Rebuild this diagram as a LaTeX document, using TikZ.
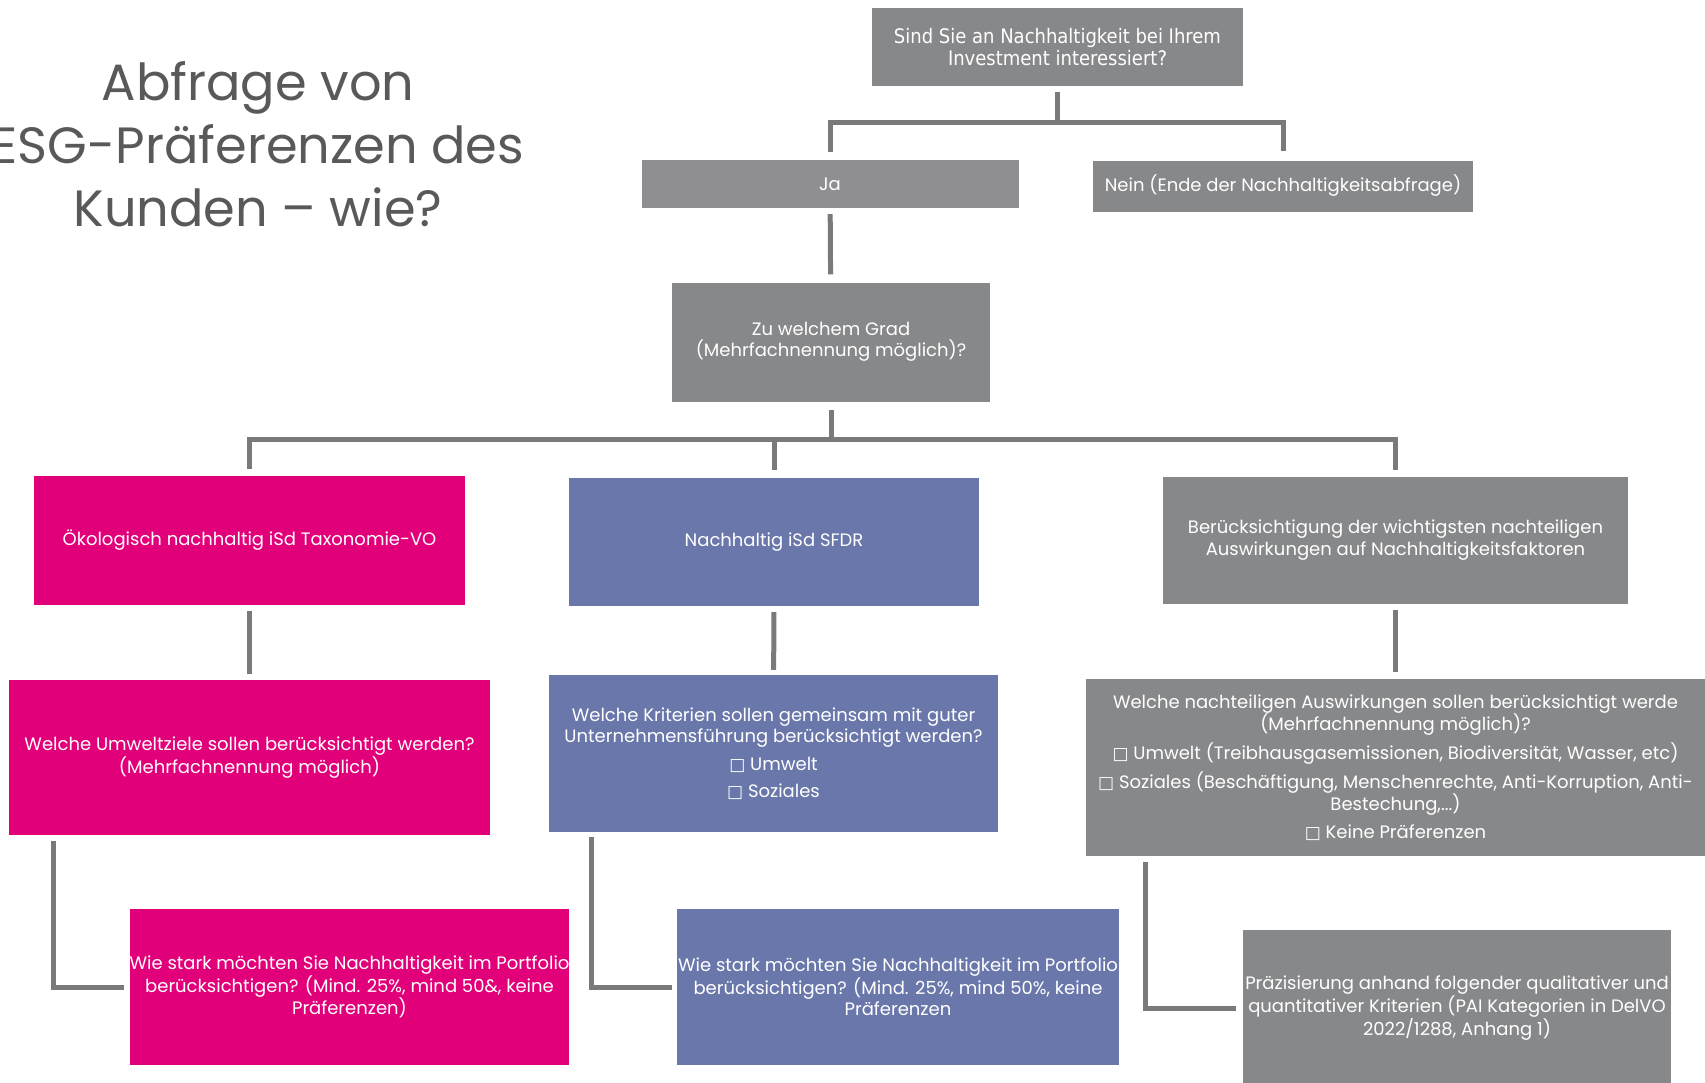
\documentclass[tikz,border=0pt]{standalone}
\usepackage{fontspec}
\setmainfont{Poppins}
\newfontfamily\condfont{DejaVu Sans Condensed}
\newfontfamily\symfont{DejaVu Sans}

\definecolor{esgPink}{RGB}{226,0,122}
\definecolor{esgBlue}{RGB}{106,119,170}
\definecolor{esgGrey}{RGB}{135,136,138}
\definecolor{esgLightGrey}{RGB}{143,143,145}
\definecolor{lineGrey}{RGB}{122,122,124}
\definecolor{titleGrey}{RGB}{89,89,89}

\newcommand{\boxsym}{{\symfont\fontsize{17}{17}\selectfont □}}
\newcommand{\boxtext}{\fontsize{18}{21.5}\selectfont}

\begin{document}
\begin{tikzpicture}[x=1pt,y=-1pt]
\tikzstyle{box}=[rectangle,inner sep=0pt,text=white,align=center,font=\boxtext]
\tikzstyle{pinkBox}=[box,fill=esgPink]
\tikzstyle{blueBox}=[box,fill=esgBlue]
\tikzstyle{greyBox}=[box,fill=esgGrey]
\tikzstyle{conn}=[draw=lineGrey,line width=5pt]

\useasboundingbox (0,0) rectangle (1705,1082);

%title.
\node[text=titleGrey,align=center,font=\fontsize{51}{63}\selectfont] (title) at (258,144) {Abfrage von\\ESG-Präferenzen des\\Kunden – wie?};

%first question.
\node[greyBox,minimum width=371pt,minimum height=78pt,font=\condfont\fontsize{20}{21.5}\selectfont] (frage) at (1057.5,47) {Sind Sie an Nachhaltigkeit bei Ihrem\\Investment interessiert?};
\node[box,fill=esgLightGrey,minimum width=377pt,minimum height=48pt] (ja) at (830,184) {Ja};
\node[greyBox,minimum width=380pt,minimum height=51pt] (nein) at (1283,186) {Nein (Ende der Nachhaltigkeitsabfrage)};

\coordinate (split1) at (1057.5,122);
\draw[conn,shorten <=6pt] (frage.south) -- (split1);
\draw[conn,shorten >=8pt] (split1) -| (ja.north);
\draw[conn,shorten >=9pt] (split1) -| (nein.north);

\node[greyBox,minimum width=318pt,minimum height=119pt] (grad) at (831,342) {Zu welchem Grad\\(Mehrfachnennung möglich)?};
\draw[conn,shorten <=6pt,shorten >=8pt] (ja) -- (grad);

%three kinds of preference.
\node[pinkBox,minimum width=431pt,minimum height=129pt] (oeko) at (249.5,540) {Ökologisch nachhaltig iSd Taxonomie-VO};
\node[blueBox,minimum width=410pt,minimum height=128pt] (sfdr) at (774,542) {Nachhaltig iSd SFDR};
\node[greyBox,minimum width=465pt,minimum height=127pt] (pai) at (1395.5,540) {Berücksichtigung der wichtigsten nachteiligen\\Auswirkungen auf Nachhaltigkeitsfaktoren};

\coordinate (split2) at (831,439);
\draw[conn,shorten <=8pt] (grad.south) -- (split2);
\draw[conn,shorten >=6pt] (split2) -| (oeko.north);
\draw[conn,shorten >=8pt] (split2) -| (sfdr.north);
\draw[conn,shorten >=6pt] (split2) -| (pai.north);

%follow-up questions.
\node[pinkBox,minimum width=481pt,minimum height=155pt] (umwelt) at (249.5,757.5) {Welche Umweltziele sollen berücksichtigt werden?\\(Mehrfachnennung möglich)};
\node[blueBox,minimum width=449pt,minimum height=157pt] (kriterien) at (773.5,753.5) {Welche Kriterien sollen gemeinsam mit guter\\Unternehmensführung berücksichtigt werden?\\[6pt]\boxsym\ Umwelt\\[6pt]\boxsym\ Soziales};
\node[greyBox,minimum width=619pt,minimum height=177pt] (nachteil) at (1395.5,767.5) {Welche nachteiligen Auswirkungen sollen berücksichtigt werde\\(Mehrfachnennung möglich)?\\[6pt]\boxsym\ Umwelt (Treibhausgasemissionen, Biodiversität, Wasser, etc)\\[6pt]\boxsym\ Soziales (Beschäftigung, Menschenrechte, Anti-Korruption, Anti-\\Bestechung,...)\\[6pt]\boxsym\ Keine Präferenzen};

\draw[conn,shorten <=6pt,shorten >=6pt] (oeko) -- (umwelt);
\draw[conn,shorten <=6pt,shorten >=5pt] (sfdr) -- (kriterien);
\draw[conn,shorten <=6pt,shorten >=7pt] (pai) -- (nachteil);

%last row.
\node[pinkBox,minimum width=439pt,minimum height=156pt] (wsPink) at (349.5,987) {Wie stark möchten Sie Nachhaltigkeit im Portfolio\\berücksichtigen? (Mind. 25\%, mind 50\&, keine\\Präferenzen)};
\node[blueBox,minimum width=442pt,minimum height=156pt] (wsBlue) at (898,987) {Wie stark möchten Sie Nachhaltigkeit im Portfolio\\berücksichtigen? (Mind. 25\%, mind 50\%, keine\\Präferenzen};
\node[greyBox,minimum width=428pt,minimum height=156pt] (praez) at (1457,1008) {Präzisierung anhand folgender qualitativer und\\quantitativer Kriterien (PAI Kategorien in DelVO\\2022/1288, Anhang 1)};

\draw[conn,shorten <=6pt,shorten >=5pt] ([xshift=45pt]umwelt.south west) |- (wsPink.west);
\draw[conn,shorten <=5pt,shorten >=5pt] ([xshift=43pt]kriterien.south west) |- (wsBlue.west);
\draw[conn,shorten <=6pt,shorten >=7pt] ([xshift=60pt]nachteil.south west) |- (praez.west);

\end{tikzpicture}
\end{document}
